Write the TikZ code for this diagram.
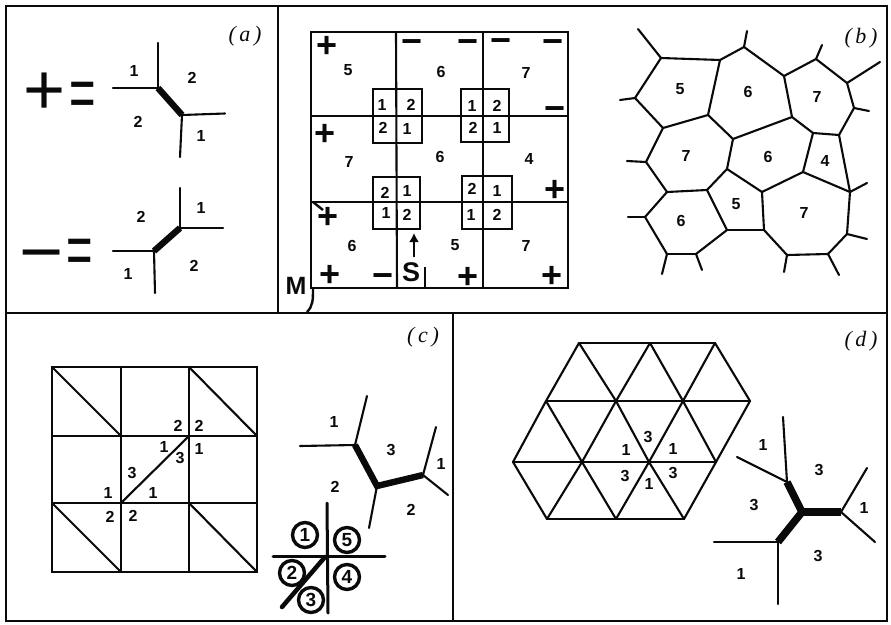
\documentclass[tikz,border=0pt]{standalone}
\usepackage{graphicx}
\usepackage{fontspec}
\setmainfont{Liberation Sans}
\newfontfamily\labfont{Liberation Serif}
\usetikzlibrary{arrows.meta}
\definecolor{ink}{HTML}{0A0A0A}
\tikzset{
  ln/.style={draw=ink,line width=2.1pt,line cap=round,line join=round},
  fat/.style={draw=ink,line width=6.4pt,line cap=butt,line join=miter},
  framing/.style={draw=ink,line width=2.8pt},
  num/.style={inner sep=0pt,text=ink,font=\fontsize{16}{16}\selectfont\bfseries},
  sgn/.style={inner sep=0pt,text=ink,font=\fontsize{36}{36}\selectfont\bfseries},
  bigsgn/.style={inner sep=0pt,text=ink,font=\fontsize{72}{72}\selectfont},
  panel/.style={inner sep=0pt,text=ink,font=\fontsize{22}{22}\labfont\itshape},
  ring/.style={circle,draw=ink,line width=3.4pt,fill=white,minimum size=25pt,inner sep=0pt,text=ink,font=\fontsize{19}{19}\selectfont\bfseries},
  cell/.style={draw=ink,line width=2.2pt,fill=none},
}
\newcommand{\pts}[1]{\foreach \n/\x/\y in {#1} \coordinate (\n) at (\x,\y);}
\newcommand{\segs}[2]{\foreach \a/\b in {#2} \draw[#1] (\a) -- (\b);}
\begin{document}
\begin{tikzpicture}[x=1pt,y=-1pt]
\path[use as bounding box,fill=white] (0,0) rectangle (891,624);
% frame
\pts{f1/6/6,f2/887/6,f3/887/621,f4/6/621,f5/278/6,f6/278/313,f7/6/313,f8/887/313,f9/453/313,f10/453/621}
\draw[framing] (f1) -- (f2) -- (f3) -- (f4) -- cycle;
\segs{framing}{f5/f6,f7/f8,f9/f10}
\node[panel] (la) at (245,36) {(\,a\,)};
\node[panel] (lb) at (861,38) {(\,b\,)};
\node[panel] (lc) at (423,337) {(\,c\,)};
\node[panel] (ld) at (861,341) {(\,d\,)};

% ---------- panel a
\node[bigsgn] (aplus) at (45,94) {+};
\node[bigsgn] (aeq) at (83,100) {\scalebox{.63}[1]{=}};
\node[bigsgn] (aminus) at (42,263) {\scalebox{1.05}[1]{−}};
\node[bigsgn] (aeqb) at (80,256.5) {\scalebox{.63}[1]{=}};
\pts{p1/113/88,p2/158/88,p3/158/43,p4/182/115,p5/225/113.5,p6/180/157}
\segs{ln}{p1/p2,p2/p3,p4/p5,p4/p6}
\draw[fat] (p2) -- (p4);
\pts{q1/113/251,q2/154/251,q3/155/293,q4/180/228,q5/180/188,q6/223/228}
\segs{ln}{q1/q2,q2/q3,q4/q5,q4/q6}
\draw[fat] (q2) -- (q4);
\foreach \x/\y/\t [count=\i] in {134/71/1,192/78/2,138/122/2,201/136/1,141/217/2,201/208/1,128/274/1,194/266/2}
  \node[num] (an\i) at (\x,\y) {\t};

% ---------- panel b, grid
\pts{g1/311/32,g2/568/32,g3/568/288,g4/311/288,v1/396/32,v2/397/288,v3/483/32,v4/483/288,h1/311/116,h2/568/116,h3/311/202,h4/568/202}
\draw[draw=ink,line width=2.4pt] (g1) -- (g2) -- (g3) -- (g4) -- cycle;
\segs{ln}{v1/v2,v3/v4,h1/h2,h3/h4}
\pts{s1/373/89,s2/422/143,s3/461/89,s4/509/142,s5/373/177,s6/420/229,s7/462/176,s8/512/229}
\foreach \a/\b in {s1/s2,s3/s4,s5/s6,s7/s8} \draw[cell] (\a) rectangle (\b);
\foreach \x/\y/\t [count=\i] in {382/105/1,411/105/2,383/128/2,407/129/1,472/106/1,497/106/2,473/128/2,497/128/1,385/193/2,407/191/1,386/213/1,407/215/2,472/189/2,497/191/1,471/215/1,497/215/2,348/70/5,441/72/6,526/73/7,349/162/7,440/157/6,529/159/4,352/246/6,455/245/5,526/246/7}
  \node[num] (bn\i) at (\x,\y) {\t};
\foreach \x/\y [count=\i] in {327/46.5,325/134.5,555/190.5,328/217.5,330/275.5,468/277.5,552/276.5}
  \node[sgn] (bp\i) at (\x,\y) {+};
\foreach \x/\y [count=\i] in {412/46.5,468/46.5,501/45.5,553/46.5,555/113.5,383/280.5}
  \node[sgn] (bm\i) at (\x,\y) {−};
\pts{t1/313/202,t2/323/210,a1/414/257,a2/414/233,c1/425/267,c2/425/287,m1/313/288,m2/307/312}
\draw[draw=ink,line width=2.4pt] (t1) -- (t2);
\draw[draw=ink,line width=2.6pt,-{Latex[length=9pt,width=10pt]}] (a1) -- (a2);
\draw[draw=ink,line width=2.4pt] (c1) -- (c2);
\draw[draw=ink,line width=2.4pt] (m1) .. controls (313,300) and (313,306) .. (m2);
\node[inner sep=0pt,text=ink,font=\fontsize{27}{27}\selectfont\bfseries] (lS) at (411,272) {S};
\node[inner sep=0pt,text=ink,font=\fontsize{25}{25}\selectfont\bfseries] (lM) at (296,286) {M};

% ---------- panel b, graph
\pts{A/661/58,B/720/60,C/744/47,D/784/76,E/816/59,F/847/83,G/854/108,H/839/135,I/813/133,J/792/117,K/733/139,L/708/115,N/663/128,O/635/98,P/646/162,Q/667/192,R/707/190,S/727/169,T/762/192,U/803/172,V/850/192,W/847/234,X/828/254,Y/787/255,Z/764/230,AA/727/230,AB/696/254,AC/667/254,AD/645/217}
\pts{fa/638/29,fc/747/31,fe/822/45,ff/880/62,fg/869/111,fo/620/100,fp/627/161,fv/867/183,fw/867/239,fx/839/275,fy/784/272,fab/702/270,fac/662/274,fad/628/217}
\segs{ln}{A/B,B/C,C/D,D/E,E/F,F/G,G/H,H/I,I/J,J/D,J/K,K/L,L/B,L/N,N/O,O/A,N/P,P/Q,Q/R,R/S,S/K,S/T,T/U,U/I,U/V,V/H,V/W,W/X,X/Y,Y/Z,Z/T,Z/AA,AA/R,AA/AB,AB/AC,AC/AD,AD/Q}
\segs{ln}{A/fa,C/fc,E/fe,F/ff,G/fg,O/fo,P/fp,V/fv,W/fw,X/fx,Y/fy,AB/fab,AC/fac,AD/fad}
\foreach \x/\y/\t [count=\i] in {680/89/5,748/92/6,817/97/7,686/156/7,768/157/6,825/161/4,736/204/5,804/213/7,681/221/6}
  \node[num] (gn\i) at (\x,\y) {\t};

% ---------- panel c, grid
\pts{k1/52/367,k2/257/367,k3/257/572,k4/52/572,kv1/121/367,kv2/121/572,kv3/189/367,kv4/189/572,kh1/52/436,kh2/257/436,kh3/52/503,kh4/257/503,ka/121/436,kb/189/436,kc/121/503,kd/189/503}
\draw[draw=ink,line width=2.4pt] (k1) -- (k2) -- (k3) -- (k4) -- cycle;
\segs{ln}{kv1/kv2,kv3/kv4,kh1/kh2,kh3/kh4,k1/ka,kv3/kh2,kc/kb,kh3/kv2,kd/k3}
\foreach \x/\y/\t [count=\i] in {178/426/2,199/426/2,164/447/1,199/449/1,180/458/3,132/473/3,108/493/1,153/493/1,110/517/2,133/516/2,334/422/1,391/450/3,441/464/1,335/487/2,411/510/2}
  \node[num] (cn\i) at (\x,\y) {\t};
% panel c, tree
\pts{u1/300/446,u2/355/445,u3/367/396,u4/377/486,u5/369/528,u6/423/475,u7/436/427,u8/448/495}
\segs{ln}{u1/u2,u2/u3,u4/u5,u6/u7,u6/u8}
\draw[fat] (u2) -- (u4) -- (u6);
% panel c, numbered cross
\pts{x1/327/503,x2/328/613,x3/273/556,x4/385/556,x5/325/557,x6/282/607}
\draw[draw=ink,line width=3pt,line cap=round] (x1) -- (x2);
\draw[draw=ink,line width=3pt,line cap=round] (x3) -- (x4);
\draw[draw=ink,line width=4.5pt,line cap=round] (x5) -- (x6);
\foreach \x/\y/\t [count=\i] in {305/535/1,347/540/5,292/573/2,347/577/4,311/600/3}
  \node[ring] (r\i) at (\x,\y) {\t};

% ---------- panel d, lattice
\pts{t1/579/343,t2/650/343,t3/715/343,mm1/546/401,mm2/616/401,mm3/683/401,mm4/750/401,cc1/513/462,cc2/582/462,cc3/649/462,cc4/716/462,b1/547/519,b2/616/519,b3/684/519}
\segs{ln}{t1/t2,t2/t3,mm1/mm2,mm2/mm3,mm3/mm4,cc1/cc2,cc2/cc3,cc3/cc4,b1/b2,b2/b3}
\segs{ln}{t1/mm1,t1/mm2,t2/mm2,t2/mm3,t3/mm3,t3/mm4,mm1/cc1,mm1/cc2,mm2/cc2,mm2/cc3,mm3/cc3,mm3/cc4,mm4/cc4,cc1/b1,cc2/b1,cc2/b2,cc3/b2,cc3/b3,cc4/b3}
\foreach \x/\y/\t [count=\i] in {648/437/3,626/450/1,673/449/1,625/476/3,673/473/3,649/484/1,763/445/1,819/470/3,754/505/3,864/508/1,818/556/3,741/574/1}
  \node[num] (dn\i) at (\x,\y) {\t};
% panel d, tree
\pts{w1/783/417,w2/787/482,w3/737/457,w4/802/512,w5/841/512,w6/867/468,w7/875/542,w8/778/542,w9/714/542,w10/778/604}
\segs{ln}{w1/w2,w3/w2,w5/w6,w5/w7,w9/w8,w8/w10}
\draw[draw=ink,line width=7.5pt,line cap=butt] (w2) -- (w4);
\draw[draw=ink,line width=7.5pt,line cap=butt] (w5) -- (w4);
\draw[draw=ink,line width=7.5pt,line cap=butt] (w8) -- (w4);
\end{tikzpicture}
\end{document}
